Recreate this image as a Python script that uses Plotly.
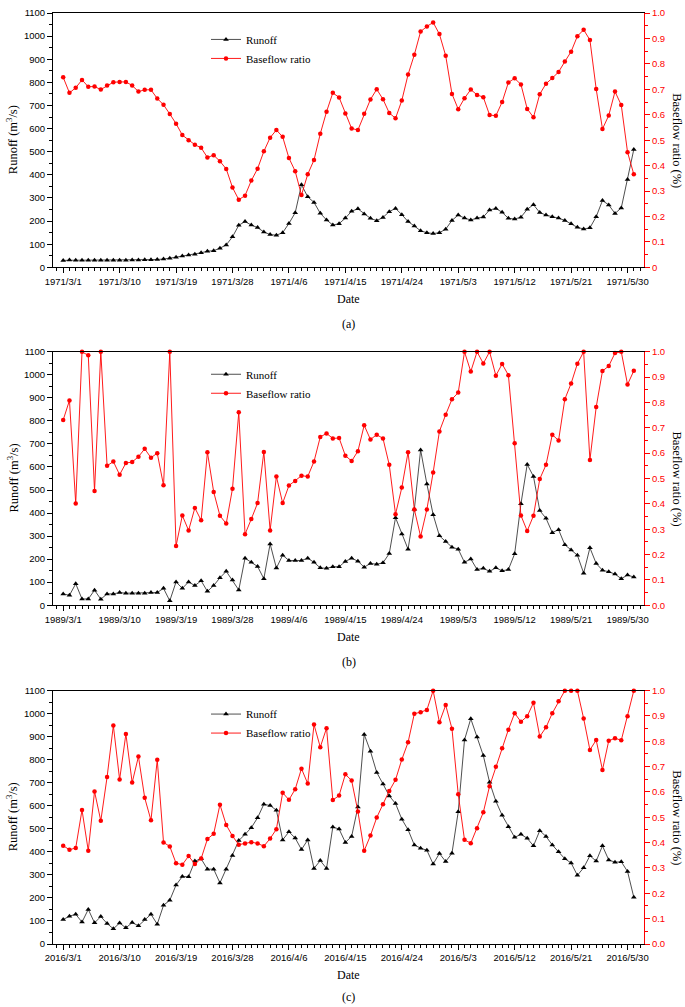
import pandas as pd
import plotly.graph_objects as go

# ---------------- data ----------------
years = ["1971", "1989", "2016"]
panel_labels = ["(a)", "(b)", "(c)"]

runoff_1971 = [30, 32, 31, 31, 31, 31, 31, 31, 31, 31,
               31, 32, 32, 33, 33, 34, 36, 39, 44, 49,
               53, 57, 63, 70, 72, 83, 97, 132, 182, 198,
               183, 172, 153, 142, 139, 150, 190, 236, 357, 305,
               281, 234, 205, 183, 189, 213, 243, 253, 231, 212,
               202, 216, 241, 255, 228, 198, 179, 158, 150, 146,
               150, 165, 203, 226, 213, 205, 213, 218, 248, 255,
               238, 212, 209, 217, 251, 271, 237, 226, 219, 213,
               203, 189, 173, 166, 171, 219, 289, 270, 233, 257,
               380, 510]
ratio_1971 = [0.747, 0.686, 0.706, 0.737, 0.710, 0.711, 0.699, 0.715, 0.728, 0.729,
              0.729, 0.715, 0.691, 0.698, 0.698, 0.664, 0.639, 0.603, 0.565, 0.520,
              0.500, 0.482, 0.470, 0.432, 0.441, 0.417, 0.387, 0.314, 0.266, 0.282,
              0.341, 0.388, 0.456, 0.510, 0.540, 0.513, 0.430, 0.378, 0.284, 0.366,
              0.422, 0.525, 0.612, 0.686, 0.668, 0.605, 0.546, 0.540, 0.604, 0.660,
              0.700, 0.661, 0.607, 0.586, 0.656, 0.758, 0.836, 0.927, 0.947, 0.963,
              0.917, 0.832, 0.682, 0.622, 0.665, 0.699, 0.678, 0.669, 0.599, 0.596,
              0.650, 0.727, 0.743, 0.719, 0.623, 0.590, 0.681, 0.722, 0.744, 0.768,
              0.809, 0.848, 0.909, 0.934, 0.894, 0.701, 0.544, 0.597, 0.691, 0.638,
              0.453, 0.366]

runoff_1989 = [49, 43, 93, 27, 27, 65, 26, 49, 49, 55,
               52, 52, 52, 52, 55, 55, 73, 19, 101, 73,
               101, 85, 106, 60, 85, 119, 147, 109, 66, 204,
               186, 168, 115, 266, 161, 217, 194, 194, 194, 204,
               186, 162, 160, 167, 167, 190, 204, 191, 165, 181,
               178, 184, 224, 380, 309, 243, 416, 674, 526, 393,
               301, 276, 252, 243, 186, 201, 155, 160, 147, 162,
               149, 155, 223, 440, 611, 559, 411, 377, 315, 328,
               262, 240, 217, 139, 249, 181, 152, 145, 135, 115,
               131, 122]
ratio_1989 = [0.731, 0.808, 0.401, 1.0, 0.986, 0.451, 1.0, 0.550, 0.567, 0.515,
              0.561, 0.565, 0.586, 0.617, 0.582, 0.600, 0.473, 1.0, 0.234, 0.354,
              0.295, 0.384, 0.335, 0.604, 0.447, 0.353, 0.322, 0.460, 0.761, 0.280,
              0.340, 0.403, 0.605, 0.295, 0.508, 0.403, 0.472, 0.490, 0.511, 0.508,
              0.567, 0.664, 0.678, 0.658, 0.660, 0.590, 0.569, 0.608, 0.710, 0.654,
              0.673, 0.658, 0.554, 0.359, 0.464, 0.604, 0.378, 0.271, 0.378, 0.524,
              0.686, 0.752, 0.813, 0.839, 1.0, 0.922, 1.0, 0.954, 1.0, 0.906,
              0.952, 0.908, 0.639, 0.354, 0.293, 0.353, 0.498, 0.554, 0.673, 0.650,
              0.813, 0.875, 0.953, 1.0, 0.573, 0.782, 0.924, 0.944, 0.995, 1.0,
              0.871, 0.925]

runoff_2016 = [106, 121, 129, 95, 150, 92, 119, 89, 66, 91,
               70, 93, 79, 106, 129, 86, 168, 190, 256, 293,
               292, 360, 370, 325, 325, 265, 325, 384, 449, 476,
               505, 548, 607, 601, 581, 452, 487, 460, 410, 452,
               328, 362, 328, 508, 499, 441, 467, 595, 910, 837,
               745, 695, 643, 610, 542, 496, 430, 416, 407, 347,
               393, 358, 394, 574, 886, 978, 899, 818, 702, 620,
               559, 509, 463, 476, 459, 426, 492, 467, 430, 400,
               370, 352, 298, 331, 383, 360, 426, 365, 355, 357,
               315, 203]
ratio_2016 = [0.388, 0.372, 0.379, 0.529, 0.368, 0.602, 0.486, 0.659, 0.862, 0.649,
              0.829, 0.637, 0.740, 0.577, 0.488, 0.727, 0.401, 0.385, 0.319, 0.313,
              0.347, 0.316, 0.337, 0.414, 0.435, 0.550, 0.470, 0.426, 0.392, 0.397,
              0.402, 0.397, 0.386, 0.416, 0.453, 0.597, 0.569, 0.611, 0.692, 0.633,
              0.866, 0.777, 0.852, 0.568, 0.586, 0.670, 0.645, 0.523, 0.368, 0.428,
              0.499, 0.552, 0.604, 0.648, 0.728, 0.796, 0.909, 0.915, 0.924, 1.0,
              0.875, 0.943, 0.850, 0.591, 0.411, 0.398, 0.457, 0.520, 0.623, 0.700,
              0.773, 0.846, 0.911, 0.877, 0.899, 0.952, 0.819, 0.855, 0.911, 0.958,
              1.0, 1.0, 1.0, 0.890, 0.766, 0.805, 0.687, 0.802, 0.812, 0.804,
              0.899, 1.0]

runoff_ticks = list(range(0, 1101, 100))
ratio_ticks = [round(i * 0.1, 1) for i in range(11)]
ratio_ticktext_a = ["0"] + [f"{v:.1f}" for v in ratio_ticks[1:]]
ratio_ticktext_bc = [f"{v:.1f}" for v in ratio_ticks]

runoffs = [runoff_1971, runoff_1989, runoff_2016]
ratios = [ratio_1971, ratio_1989, ratio_2016]

# ---------------- layout geometry ----------------
W, H = 685, 1007
ML, MR, MT, MB = 53, 41, 7, 63
PW = W - ML - MR
PH = H - MT - MB  # paper height in px


def py(px):
    return (H - MB - px) / PH


def pxx(px):
    return (px - ML) / PW


panel_px = [(7, 263), (348, 603), (689, 944)]
legend_top_px = [19, 356, 698]
date_off = [32, 32, 31]
lab_off = [57, 57, 53]

SANS = "Liberation Sans"
SERIF = "Liberation Serif"
RED = "#ff0000"

fig = go.Figure()
annotations = []
layout = dict(
    width=W, height=H,
    margin=dict(l=ML, r=MR, t=MT, b=MB),
    paper_bgcolor="white", plot_bgcolor="white",
    showlegend=True,
)

for i, yr in enumerate(years):
    dates = pd.date_range(f"{yr}-03-01", f"{yr}-05-31", freq="D")
    xa = f"x{'' if i == 0 else i + 1}"
    yl = f"y{'' if i == 0 else 2 * i + 1}"
    yr_ = f"y{2 * i + 2}"
    leg = "legend" if i == 0 else f"legend{i + 1}"

    fig.add_trace(go.Scatter(
        x=dates, y=runoffs[i], mode="lines+markers", name="Runoff",
        xaxis=xa, yaxis=yl, legend=leg, cliponaxis=False,
        line=dict(color="#222222", width=0.8),
        marker=dict(symbol="triangle-up", size=5, color="black"),
    ))
    fig.add_trace(go.Scatter(
        x=dates, y=ratios[i], mode="lines+markers", name="Baseflow ratio",
        xaxis=xa, yaxis=yr_, legend=leg, cliponaxis=False,
        line=dict(color=RED, width=0.9),
        marker=dict(symbol="circle", size=4.5, color=RED),
    ))

    top, bot = panel_px[i]
    dom = [py(bot), py(top)]
    tickdates = dates[::9]
    x0 = dates[0] - pd.Timedelta(hours=int(1.65 * 24))
    x1 = dates[-1] + pd.Timedelta(hours=int(1.65 * 24))

    xkey = "xaxis" if i == 0 else f"xaxis{i + 1}"
    ylkey = "yaxis" if i == 0 else f"yaxis{2 * i + 1}"
    yrkey = f"yaxis{2 * i + 2}"

    layout[xkey] = dict(
        type="date", range=[x0, x1], domain=[0, 1], anchor=yl,
        tickmode="array", tickvals=list(tickdates),
        ticktext=[f"{d.year}/{d.month}/{d.day}" for d in tickdates],
        ticks="outside", ticklen=5, tickcolor="black", tickwidth=1,
        minor=dict(tickmode="linear", tick0=dates[0], dtick=86400000,
                   ticks="outside", ticklen=3, tickcolor="black"),
        showline=True, linecolor="black", linewidth=1, mirror=True,
        showgrid=False, zeroline=False,
        tickfont=dict(family=SANS, size=9.5, color="black"),
    )
    layout[ylkey] = dict(
        domain=dom, anchor=xa, range=[0, 1100],
        tickmode="array", tickvals=runoff_ticks,
        ticktext=[str(v) for v in runoff_ticks],
        ticks="outside", ticklen=5, tickcolor="black",
        minor=dict(tickmode="linear", tick0=0, dtick=50,
                   ticks="outside", ticklen=3, tickcolor="black"),
        showline=True, linecolor="black", linewidth=1,
        showgrid=False, zeroline=False,
        tickfont=dict(family=SANS, size=9.5, color="black"),
    )
    layout[yrkey] = dict(
        domain=dom, anchor=xa, overlaying=yl, side="right", range=[0, 1.0],
        tickmode="array", tickvals=ratio_ticks,
        ticktext=ratio_ticktext_a if i == 0 else ratio_ticktext_bc,
        ticks="outside", ticklen=5, tickcolor=RED,
        minor=dict(tickmode="linear", tick0=0, dtick=0.05,
                   ticks="outside", ticklen=3, tickcolor=RED),
        showline=True, linecolor=RED, linewidth=1,
        showgrid=False, zeroline=False,
        tickfont=dict(family=SANS, size=9.5, color=RED),
    )
    layout[leg] = dict(
        x=pxx(206), y=py(legend_top_px[i]), xanchor="left", yanchor="top",
        bgcolor="rgba(0,0,0,0)", borderwidth=0,
        font=dict(family=SERIF, size=11, color="black"),
        tracegroupgap=0,
    )

    mid = (top + bot) / 2
    annotations += [
        dict(text="Runoff (m<sup>3</sup>/s)", textangle=-90, x=pxx(12),
             y=py(mid), xref="paper", yref="paper", showarrow=False,
             xanchor="center", yanchor="middle",
             font=dict(family=SERIF, size=12.5, color="black")),
        dict(text="Baseflow ratio (%)", textangle=90, x=pxx(677),
             y=py(mid), xref="paper", yref="paper", showarrow=False,
             xanchor="center", yanchor="middle",
             font=dict(family=SERIF, size=12.5, color="black")),
        dict(text="Date", x=0.5, y=py(bot + date_off[i]), xref="paper", yref="paper",
             showarrow=False, xanchor="center", yanchor="middle",
             font=dict(family=SERIF, size=12, color="black")),
        dict(text=panel_labels[i], x=0.5, y=py(bot + lab_off[i]), xref="paper", yref="paper",
             showarrow=False, xanchor="center", yanchor="middle",
             font=dict(family=SERIF, size=12, color="black")),
    ]

layout["annotations"] = annotations
fig.update_layout(**layout)
fig.write_html(
    "out.html",
    config={"displayModeBar": False},
    post_script="document.body.style.margin='0';document.body.style.padding='0';",
)
